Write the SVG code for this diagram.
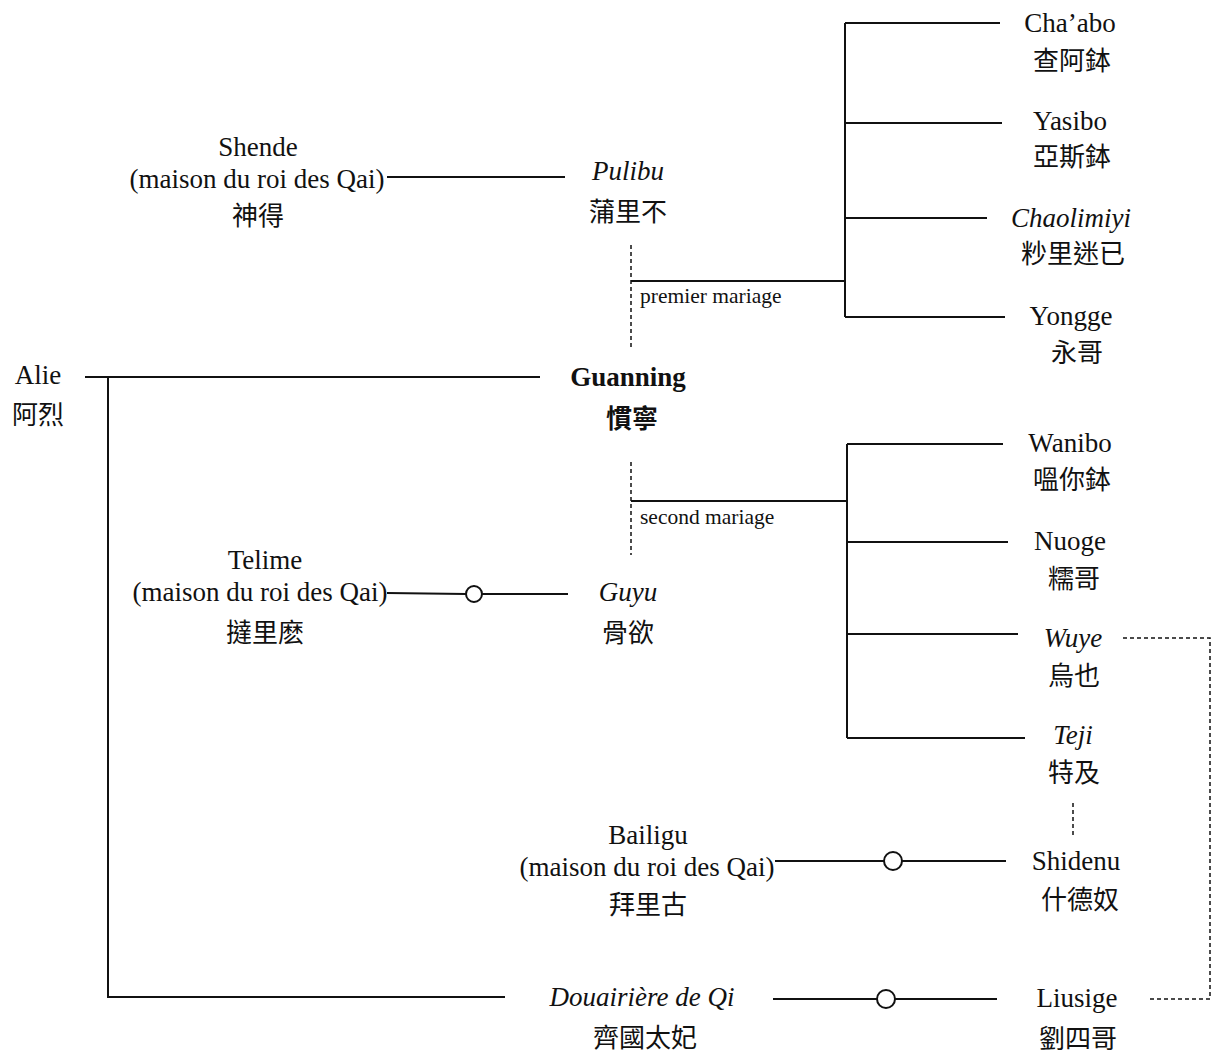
<svg xmlns="http://www.w3.org/2000/svg" width="1213" height="1057" viewBox="0 0 1213 1057">
<style>
text{font-family:"Liberation Serif","Noto Sans CJK TC",serif;font-size:27px;fill:#111;text-anchor:middle}
.cjk{font-family:"Noto Sans CJK TC","Liberation Serif",sans-serif;font-size:26px}
.it{font-style:italic}
.b{font-weight:bold}
.lab{font-size:21.5px;text-anchor:start}
.ln{stroke:#111;stroke-width:2;fill:none}
.ds{stroke:#111;stroke-width:1.5;fill:none;stroke-dasharray:4 3}
.ring{stroke:#111;stroke-width:2;fill:#fff}
</style>
<rect width="1213" height="1057" fill="#fff"/>
<g id="connectors">
<polyline class="ln" points="85,377 540,377"/>
<polyline class="ln" points="108,377 108,997 505,997"/>
<line class="ln" x1="387" y1="177" x2="565" y2="177"/>
<line class="ds" x1="631" y1="245" x2="631" y2="348"/>
<line class="ln" x1="631" y1="281" x2="845" y2="281"/>
<line class="ln" x1="845" y1="23" x2="845" y2="317"/>
<line class="ln" x1="845" y1="23" x2="1000" y2="23"/>
<line class="ln" x1="845" y1="123" x2="1002" y2="123"/>
<line class="ln" x1="845" y1="218" x2="987" y2="218"/>
<line class="ln" x1="845" y1="317" x2="1005" y2="317"/>
<line class="ds" x1="631" y1="462" x2="631" y2="555"/>
<line class="ln" x1="631" y1="501" x2="847" y2="501"/>
<line class="ln" x1="847" y1="444" x2="847" y2="738"/>
<line class="ln" x1="847" y1="444" x2="1003" y2="444"/>
<line class="ln" x1="847" y1="542" x2="1008" y2="542"/>
<line class="ln" x1="847" y1="634" x2="1018" y2="634"/>
<line class="ln" x1="847" y1="738" x2="1025" y2="738"/>
<line class="ds" x1="1073" y1="803" x2="1073" y2="835"/>
<polyline class="ds" points="1123,638 1210,638 1210,999 1147,999"/>
<line class="ln" x1="387" y1="593" x2="466" y2="594"/>
<circle class="ring" cx="474" cy="594" r="8"/>
<line class="ln" x1="482" y1="594" x2="568" y2="594"/>
<line class="ln" x1="775" y1="861" x2="884" y2="861"/>
<circle class="ring" cx="893" cy="861" r="9"/>
<line class="ln" x1="902" y1="861" x2="1006" y2="861"/>
<line class="ln" x1="773" y1="999" x2="877" y2="999"/>
<circle class="ring" cx="886" cy="999" r="9"/>
<line class="ln" x1="895" y1="999" x2="997" y2="999"/>
<text class="lab" x="640" y="303">premier mariage</text>
<text class="lab" x="640" y="524">second mariage</text>
</g>
<g id="alie"><text x="38" y="384">Alie</text><text class="cjk" x="38" y="424">阿烈</text></g>
<g id="guanning"><text class="b" x="628" y="386">Guanning</text><text class="cjk b" x="632" y="428">慣寧</text></g>
<g id="shende"><text x="258" y="156">Shende</text><text x="257" y="188">(maison du roi des Qai)</text><text class="cjk" x="258" y="225">神得</text></g>
<g id="pulibu"><text class="it" x="628" y="180">Pulibu</text><text class="cjk" x="628" y="221">蒲里不</text></g>
<g id="chaabo"><text x="1070" y="32">Cha’abo</text><text class="cjk" x="1072" y="70">查阿鉢</text></g>
<g id="yasibo"><text x="1070" y="130">Yasibo</text><text class="cjk" x="1072" y="166">亞斯鉢</text></g>
<g id="chaolimiyi"><text class="it" x="1071" y="227">Chaolimiyi</text><text class="cjk" x="1073" y="263">粆里迷已</text></g>
<g id="yongge"><text x="1071" y="325">Yongge</text><text class="cjk" x="1077" y="362">永哥</text></g>
<g id="wanibo"><text x="1070" y="452">Wanibo</text><text class="cjk" x="1072" y="489">嗢你鉢</text></g>
<g id="nuoge"><text x="1070" y="550">Nuoge</text><text class="cjk" x="1074" y="588">糯哥</text></g>
<g id="wuye"><text class="it" x="1073" y="647">Wuye</text><text class="cjk" x="1074" y="685">烏也</text></g>
<g id="teji"><text class="it" x="1073" y="744">Teji</text><text class="cjk" x="1074" y="782">特及</text></g>
<g id="telime"><text x="265" y="569">Telime</text><text x="260" y="601">(maison du roi des Qai)</text><text class="cjk" x="265" y="642">撻里麽</text></g>
<g id="guyu"><text class="it" x="628" y="601">Guyu</text><text class="cjk" x="628" y="642">骨欲</text></g>
<g id="bailigu"><text x="648" y="844">Bailigu</text><text x="647" y="876">(maison du roi des Qai)</text><text class="cjk" x="648" y="914">拜里古</text></g>
<g id="shidenu"><text x="1076" y="870">Shidenu</text><text class="cjk" x="1080" y="909">什德奴</text></g>
<g id="douairiere"><text class="it" x="642" y="1006">Douairière de Qi</text><text class="cjk" x="645" y="1047">齊國太妃</text></g>
<g id="liusige"><text x="1077" y="1007">Liusige</text><text class="cjk" x="1078" y="1048">劉四哥</text></g>
</svg>
